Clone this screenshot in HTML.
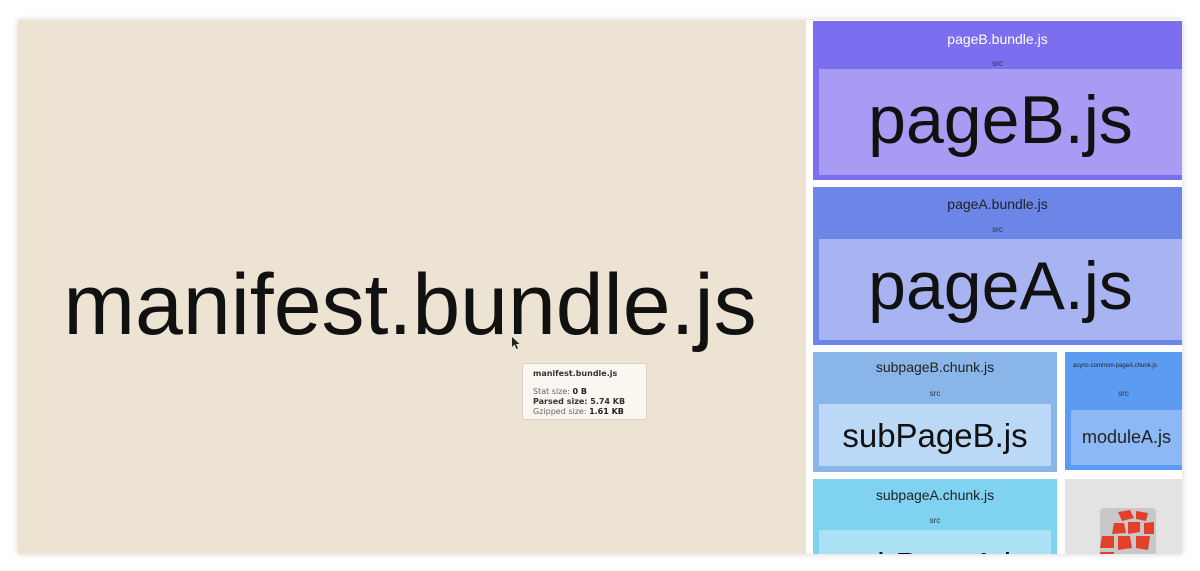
<!DOCTYPE html>
<html><head><style>
html,body{margin:0;padding:0;width:1200px;height:571px;background:#fff;overflow:hidden;font-family:"Liberation Sans",Arial,sans-serif}
.frame{position:absolute;left:18px;top:20px;width:1164px;height:534px;background:#fff;box-shadow:0 0 6px rgba(0,0,0,.18);overflow:hidden}
.a{position:absolute;box-sizing:border-box}
.t{position:absolute;left:0;right:0;text-align:center;color:#111;white-space:nowrap}
</style></head><body>
<div class="frame">
 <div class="a" style="left:0;top:0;width:788px;height:534px;background:#ECE3D3">
  <div class="t" style="top:236px;font-size:86px;left:-4px">manifest.bundle.js</div>
 </div>
 <svg class="a" style="left:493px;top:316px" width="10" height="14" viewBox="0 0 10 14"><path d="M1 1 L1 11 L3.5 8.5 L5.5 13 L7 12.3 L5 8 L8.5 8 Z" fill="#222"/></svg>
 <div class="a" style="left:504px;top:343px;width:125px;height:57px;background:#FAF7F1;border:1px solid #d8d2c6;border-radius:3px;font-family:'DejaVu Sans',sans-serif;font-size:8px;color:#666;padding:5px 0 0 10px;line-height:10px">
  <div style="font-weight:bold;color:#333">manifest.bundle.js</div>
  <div style="margin-top:8px">Stat size: <b style="color:#222">0 B</b></div>
  <div style="font-weight:bold;color:#333">Parsed size: 5.74 KB</div>
  <div>Gzipped size: <b style="color:#222">1.61 KB</b></div>
 </div>

 <div class="a" style="left:795px;top:1px;width:369px;height:159px;background:#7B6FF0">
  <div class="t" style="top:10px;font-size:14px;color:#fff">pageB.bundle.js</div>
  <div class="t" style="top:38px;font-size:8px;color:#333">src</div>
  <div class="a" style="left:6px;top:48px;right:0;height:106px;background:#A99AF3">
   <div class="t" style="top:12px;font-size:68px">pageB.js</div>
  </div>
 </div>
 <div class="a" style="left:795px;top:167px;width:369px;height:158px;background:#6C86E8">
  <div class="t" style="top:9px;font-size:14px;color:#222">pageA.bundle.js</div>
  <div class="t" style="top:38px;font-size:8px;color:#333">src</div>
  <div class="a" style="left:6px;top:52px;right:0;height:101px;background:#A8B4F2">
   <div class="t" style="top:8px;font-size:68px">pageA.js</div>
  </div>
 </div>
 <div class="a" style="left:795px;top:332px;width:244px;height:120px;background:#89B5E8">
  <div class="t" style="top:7px;font-size:14px;color:#222">subpageB.chunk.js</div>
  <div class="t" style="top:37px;font-size:8px;color:#333">src</div>
  <div class="a" style="left:6px;top:52px;width:232px;height:62px;background:#BBD8F6">
   <div class="t" style="top:13px;font-size:33px">subPageB.js</div>
  </div>
 </div>
 <div class="a" style="left:1047px;top:332px;width:117px;height:118px;background:#5C9BF2">
  <div class="t" style="top:11px;font-size:6px;color:#222;text-align:left;left:8px">async-common-pageA.chunk.js</div>
  <div class="t" style="top:37px;font-size:8px;color:#333">src</div>
  <div class="a" style="left:6px;top:58px;right:0;height:55px;background:#8CB8F5">
   <div class="t" style="top:17px;font-size:18px;color:#222">moduleA.js</div>
  </div>
 </div>
 <div class="a" style="left:795px;top:459px;width:244px;height:80px;background:#7FD2F0">
  <div class="t" style="top:8px;font-size:14px;color:#222">subpageA.chunk.js</div>
  <div class="t" style="top:37px;font-size:8px;color:#333">src</div>
  <div class="a" style="left:6px;top:51px;width:232px;height:40px;background:#ABE1F5;overflow:hidden">
   <div class="t" style="top:16px;font-size:33px">subPageA.js</div>
  </div>
 </div>
 <div class="a" style="left:1047px;top:459px;width:117px;height:80px;background:#E3E3E3">
  <svg class="a" style="left:35px;top:29px" width="56" height="50" viewBox="0 0 56 50">
   <rect x="0" y="0" width="56" height="50" rx="4" fill="#c8c8c8"/>
   <g fill="#E2402A">
    <path d="M18 4 L30 2 L34 10 L22 13Z"/><path d="M36 3 L48 5 L46 13 L36 11Z"/>
    <path d="M14 15 L24 15 L26 25 L12 26Z"/><path d="M28 14 L40 14 L40 24 L28 26Z"/>
    <path d="M44 15 L54 14 L54 26 L44 26Z"/><path d="M2 28 L14 28 L14 40 L0 40Z"/>
    <path d="M18 28 L30 28 L32 40 L18 42Z"/><path d="M36 28 L50 28 L48 42 L36 40Z"/>
    <path d="M0 44 L14 44 L14 50 L0 50Z"/>
   </g>
  </svg>
 </div>
</div>
</body></html>
